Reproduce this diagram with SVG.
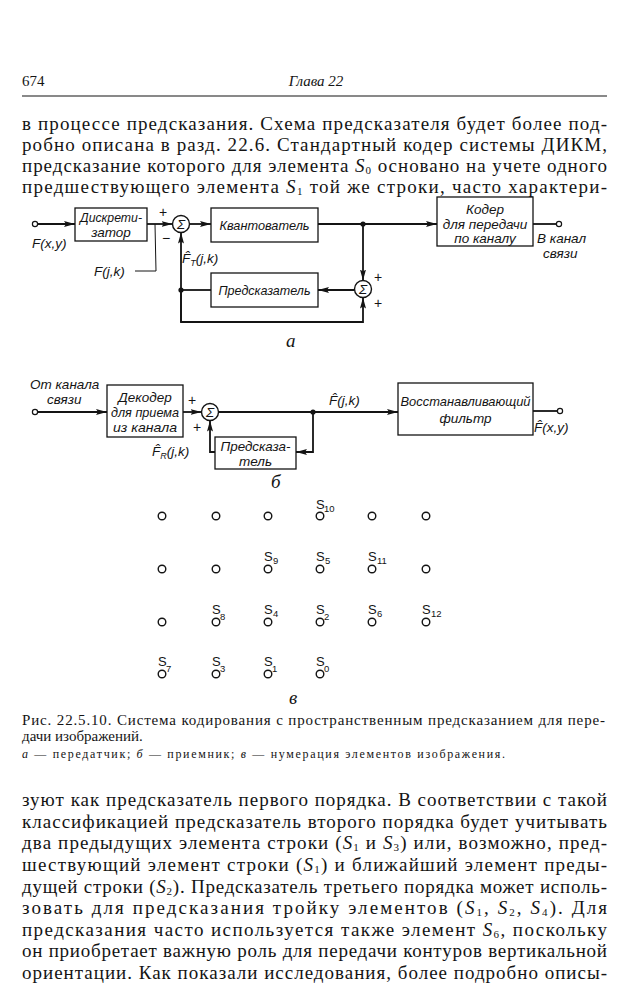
<svg xmlns="http://www.w3.org/2000/svg" width="641" height="990" viewBox="0 0 641 990">
<defs>
<style>
.t{font-family:"Liberation Serif","DejaVu Serif",serif;font-size:19px;fill:#141414}
.c{font-family:"Liberation Serif","DejaVu Serif",serif;font-size:15px;fill:#141414}
.cs{font-family:"Liberation Serif","DejaVu Serif",serif;font-size:12px;fill:#141414}
.i{font-style:italic}
.sb{font-size:11px}
.l{font-family:"Liberation Sans","DejaVu Sans",sans-serif;font-style:italic;font-size:13.5px;fill:#141414}
.lc{font-family:"Liberation Sans","DejaVu Sans",sans-serif;font-style:italic;font-size:13.5px;fill:#141414;text-anchor:middle}
.g{font-family:"Liberation Sans","DejaVu Sans",sans-serif;font-size:13px;fill:#141414}
.gs{font-family:"Liberation Sans","DejaVu Sans",sans-serif;font-size:9.5px;fill:#141414}
.pm{font-family:"Liberation Sans","DejaVu Sans",sans-serif;font-size:14px;fill:#141414}
.box{fill:#fff;stroke:#141414;stroke-width:1.3}
.w{fill:none;stroke:#141414;stroke-width:1.8}
.wt{fill:none;stroke:#141414;stroke-width:1}
.sum{fill:#fff;stroke:#141414;stroke-width:1.4}
.term{fill:#fff;stroke:#141414;stroke-width:1.2}
.dot{fill:#141414}
.px{fill:#fff;stroke:#141414;stroke-width:1.4}
</style>
<marker id="ar" markerUnits="userSpaceOnUse" markerWidth="12" markerHeight="7" refX="11" refY="3" orient="auto">
<path d="M0,0 L11,3 L0,6 L2,3 z" fill="#141414"/>
</marker>
</defs>
<rect width="641" height="990" fill="#fff"/>

<!-- header -->
<g id="header">
<text class="c" x="22" y="86" font-size="14">674</text>
<text class="c i" x="316" y="86" text-anchor="middle">Глава 22</text>
<line x1="22" y1="96" x2="607" y2="96" stroke="#141414" stroke-width="1.2"/>
</g>

<!-- top paragraph -->
<g id="text-top">
<text class="t" x="22" y="130" textLength="585" lengthAdjust="spacing">в процессе предсказания. Схема предсказателя будет более под-</text>
<text class="t" x="22" y="151" textLength="585" lengthAdjust="spacing">робно описана в разд. 22.6. Стандартный кодер системы ДИКМ,</text>
<text class="t" x="22" y="172" textLength="585" lengthAdjust="spacing">предсказание которого для элемента <tspan class="i">S</tspan><tspan class="sb" dy="1.5">0</tspan><tspan dy="-1.5"> основано на учете одного</tspan></text>
<text class="t" x="22" y="193" textLength="585" lengthAdjust="spacing">предшествующего элемента <tspan class="i">S</tspan><tspan class="sb" dy="1.5">1</tspan><tspan dy="-1.5"> той же строки, часто характери-</tspan></text>
</g>

<!-- diagram a: connectors -->
<g id="connectors-a">
<line class="w" x1="37.5" y1="224" x2="75" y2="224" marker-end="url(#ar)"/>
<line class="w" x1="147" y1="224" x2="172.5" y2="224" marker-end="url(#ar)"/>
<polyline class="wt" points="155,224 156,271 135,271"/>
<line class="w" x1="189.5" y1="224" x2="211" y2="224" marker-end="url(#ar)"/>
<line class="w" x1="318" y1="224" x2="437" y2="224" marker-end="url(#ar)"/>
<line class="w" x1="533" y1="224" x2="556.5" y2="224"/>
<line class="w" x1="363" y1="224" x2="363" y2="280.5" marker-end="url(#ar)"/>
<line class="w" x1="354.5" y1="290" x2="318" y2="290" marker-end="url(#ar)"/>
<line class="w" x1="211" y1="290" x2="181" y2="290"/>
<polyline class="w" points="181,322 181,290 181,232.5" marker-end="url(#ar)"/>
<polyline class="w" points="181,290 181,322 363,322 363,297.5" marker-end="url(#ar)"/>
<circle class="dot" cx="363" cy="224" r="2.6"/>
<circle class="dot" cx="181" cy="290" r="2.6"/>
</g>
<g id="a-in"><circle class="term" cx="35" cy="224" r="2.6"/><text class="l" x="32" y="248">F(x,y)</text></g>
<g id="a-discr"><rect class="box" x="75" y="208" width="72" height="33"/><text class="lc" x="111" y="222" textLength="62" lengthAdjust="spacingAndGlyphs">Дискрети-</text><text class="lc" x="111" y="237">затор</text></g>
<g id="a-fjk"><text class="l" x="94" y="276">F(j,k)</text></g>
<g id="a-sum1"><circle class="sum" cx="181" cy="224" r="8.5"/><text class="lc" x="181" y="229" font-size="13">Σ</text><text class="pm" x="159" y="217">+</text><text class="pm" x="162" y="243">−</text></g>
<g id="a-quant"><rect class="box" x="211" y="208" width="107" height="34"/><text class="lc" x="264.5" y="230" textLength="90" lengthAdjust="spacingAndGlyphs">Квантователь</text></g>
<g id="a-coder"><rect class="box" x="437" y="197" width="96" height="49"/><text class="lc" x="485" y="214">Кодер</text><text class="lc" x="485" y="229">для передачи</text><text class="lc" x="485" y="243">по каналу</text></g>
<g id="a-out"><circle class="term" cx="559" cy="224" r="2.6"/><text class="l" x="537" y="243">В канал</text><text class="l" x="543" y="258">связи</text></g>
<g id="a-sum2"><circle class="sum" cx="363" cy="289" r="8.5"/><text class="lc" x="363" y="294" font-size="13">Σ</text><text class="pm" x="374" y="282">+</text><text class="pm" x="374" y="308">+</text></g>
<g id="a-pred"><rect class="box" x="211" y="273" width="107" height="34"/><text class="lc" x="264.5" y="295" textLength="92" lengthAdjust="spacingAndGlyphs">Предсказатель</text></g>
<g id="a-ft"><text class="l" x="182" y="263">F̂<tspan font-size="9" dy="3">T</tspan><tspan dy="-3">(j,k)</tspan></text></g>
<text class="t i" x="286" y="347" font-size="15">а</text>

<!-- diagram b -->
<g id="connectors-b">
<line class="w" x1="37.5" y1="412" x2="107" y2="412" marker-end="url(#ar)"/>
<line class="w" x1="183" y1="412" x2="201.5" y2="412" marker-end="url(#ar)"/>
<line class="w" x1="218.5" y1="412" x2="398" y2="412" marker-end="url(#ar)"/>
<line class="w" x1="533" y1="411" x2="557.5" y2="411"/>
<polyline class="w" points="313,412 313,452 296,452" marker-end="url(#ar)"/>
<polyline class="w" points="215,452 210,452 210,420.5" marker-end="url(#ar)"/>
<circle class="dot" cx="313" cy="412" r="2.6"/>
</g>
<g id="b-in"><circle class="term" cx="35" cy="412" r="2.6"/><text class="l" x="30" y="389">От канала</text><text class="l" x="47" y="404">связи</text></g>
<g id="b-dec"><rect class="box" x="107" y="385" width="76" height="52"/><text class="lc" x="145" y="402">Декодер</text><text class="lc" x="145" y="417" textLength="68" lengthAdjust="spacingAndGlyphs">для приема</text><text class="lc" x="145" y="432" textLength="64" lengthAdjust="spacingAndGlyphs">из канала</text></g>
<g id="b-sum"><circle class="sum" cx="210" cy="412" r="8.5"/><text class="lc" x="210" y="417" font-size="13">Σ</text><text class="pm" x="188" y="405">+</text><text class="pm" x="193" y="432">+</text></g>
<g id="b-fjk"><text class="l" x="329" y="405">F̂(j,k)</text></g>
<g id="b-filter"><rect class="box" x="398" y="383" width="135" height="52"/><text class="lc" x="465.5" y="406" textLength="130" lengthAdjust="spacingAndGlyphs">Восстанавливающий</text><text class="lc" x="465.5" y="423">фильтр</text></g>
<g id="b-out"><circle class="term" cx="560" cy="411" r="2.6"/><text class="l" x="534" y="432">F̂(x,y)</text></g>
<g id="b-pred"><rect class="box" x="215" y="437" width="81" height="32"/><text class="lc" x="255.5" y="451" textLength="70" lengthAdjust="spacingAndGlyphs">Предсказа-</text><text class="lc" x="255.5" y="466">тель</text></g>
<g id="b-fr"><text class="l" x="152" y="456">F̂<tspan font-size="9" dy="3">R</tspan><tspan dy="-3">(j,k)</tspan></text></g>
<text class="t i" x="271" y="488" font-size="15">б</text>

<!-- diagram v: pixel grid -->
<g id="grid">
<circle class="px" cx="162" cy="516" r="3.8"/><circle class="px" cx="216" cy="516" r="3.8"/><circle class="px" cx="268" cy="516" r="3.8"/><circle class="px" cx="320" cy="516" r="3.8"/><circle class="px" cx="372" cy="516" r="3.8"/><circle class="px" cx="426" cy="516" r="3.8"/>
<circle class="px" cx="162" cy="569" r="3.8"/><circle class="px" cx="216" cy="569" r="3.8"/><circle class="px" cx="268" cy="569" r="3.8"/><circle class="px" cx="320" cy="569" r="3.8"/><circle class="px" cx="372" cy="569" r="3.8"/><circle class="px" cx="426" cy="569" r="3.8"/>
<circle class="px" cx="162" cy="622" r="3.8"/><circle class="px" cx="216" cy="622" r="3.8"/><circle class="px" cx="268" cy="622" r="3.8"/><circle class="px" cx="320" cy="622" r="3.8"/><circle class="px" cx="372" cy="622" r="3.8"/><circle class="px" cx="426" cy="622" r="3.8"/>
<circle class="px" cx="162" cy="674" r="3.8"/><circle class="px" cx="216" cy="674" r="3.8"/><circle class="px" cx="268" cy="674" r="3.8"/><circle class="px" cx="320" cy="674" r="3.8"/>
</g>
<g id="grid-labels">
<text class="g" x="316" y="509">S</text><text class="gs" x="324" y="512">10</text>
<text class="g" x="264" y="561">S</text><text class="gs" x="273" y="564">9</text>
<text class="g" x="316" y="561">S</text><text class="gs" x="325" y="564">5</text>
<text class="g" x="368" y="561">S</text><text class="gs" x="377" y="564">11</text>
<text class="g" x="212" y="614">S</text><text class="gs" x="220" y="620">8</text>
<text class="g" x="264" y="614">S</text><text class="gs" x="273" y="617">4</text>
<text class="g" x="316" y="614">S</text><text class="gs" x="324" y="620">2</text>
<text class="g" x="368" y="614">S</text><text class="gs" x="377" y="617">6</text>
<text class="g" x="422" y="614">S</text><text class="gs" x="431" y="617">12</text>
<text class="g" x="158" y="666">S</text><text class="gs" x="166" y="672">7</text>
<text class="g" x="212" y="666">S</text><text class="gs" x="220" y="672">3</text>
<text class="g" x="264" y="666">S</text><text class="gs" x="272" y="672">1</text>
<text class="g" x="316" y="666">S</text><text class="gs" x="324" y="672">0</text>
</g>
<text class="t i" x="289" y="704" font-size="15">в</text>

<!-- caption -->
<g id="caption">
<text class="c" x="22" y="725" textLength="583" lengthAdjust="spacing">Рис. 22.5.10. Система кодирования с пространственным предсказанием для пере-</text>
<text class="c" x="22" y="741">дачи изображений.</text>
<text class="cs" x="22" y="758" textLength="483" lengthAdjust="spacing"><tspan class="i">а</tspan> — передатчик;  <tspan class="i">б</tspan> — приемник;  <tspan class="i">в</tspan> — нумерация  элементов  изображения.</text>
</g>

<!-- bottom paragraph -->
<g id="text-bottom">
<text class="t" x="22" y="806" textLength="585" lengthAdjust="spacing">зуют как предсказатель первого порядка. В соответствии с такой</text>
<text class="t" x="22" y="828" textLength="585" lengthAdjust="spacing">классификацией предсказатель второго порядка будет учитывать</text>
<text class="t" x="22" y="849" textLength="585" lengthAdjust="spacing">два предыдущих элемента строки (<tspan class="i">S</tspan><tspan class="sb" dy="1.5">1</tspan><tspan dy="-1.5"> и </tspan><tspan class="i">S</tspan><tspan class="sb" dy="1.5">3</tspan><tspan dy="-1.5">) или, возможно, пред-</tspan></text>
<text class="t" x="22" y="871" textLength="585" lengthAdjust="spacing">шествующий элемент строки (<tspan class="i">S</tspan><tspan class="sb" dy="1.5">1</tspan><tspan dy="-1.5">) и ближайший элемент преды-</tspan></text>
<text class="t" x="22" y="893" textLength="585" lengthAdjust="spacing">дущей строки (<tspan class="i">S</tspan><tspan class="sb" dy="1.5">2</tspan><tspan dy="-1.5">). Предсказатель третьего порядка может исполь-</tspan></text>
<text class="t" x="22" y="914" textLength="585" lengthAdjust="spacing">зовать для предсказания тройку элементов (<tspan class="i">S</tspan><tspan class="sb" dy="1.5">1</tspan><tspan dy="-1.5">, </tspan><tspan class="i">S</tspan><tspan class="sb" dy="1.5">2</tspan><tspan dy="-1.5">, </tspan><tspan class="i">S</tspan><tspan class="sb" dy="1.5">4</tspan><tspan dy="-1.5">). Для</tspan></text>
<text class="t" x="22" y="936" textLength="585" lengthAdjust="spacing">предсказания часто используется также элемент <tspan class="i">S</tspan><tspan class="sb" dy="1.5">6</tspan><tspan dy="-1.5">, поскольку</tspan></text>
<text class="t" x="22" y="957" textLength="585" lengthAdjust="spacing">он приобретает важную роль для передачи контуров вертикальной</text>
<text class="t" x="22" y="979" textLength="585" lengthAdjust="spacing">ориентации. Как показали исследования, более подробно описы-</text>
</g>
</svg>
